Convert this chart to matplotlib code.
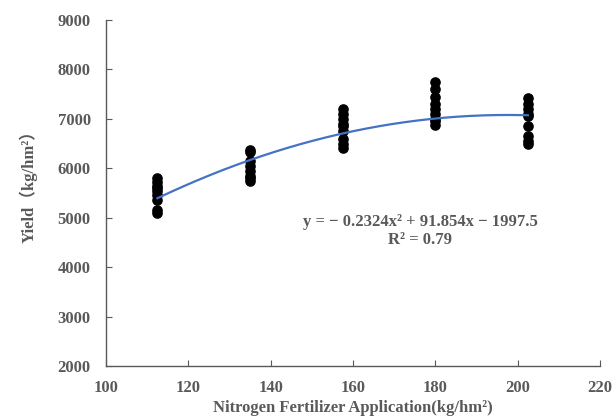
import numpy as np
import matplotlib
matplotlib.use("Agg")
import matplotlib.pyplot as plt

# nitrogen rates (kg/hm2) and yields
n_rates = [112.5, 135, 157.5, 180, 202.5]
yields = [
    [5800, 5720, 5650, 5600, 5550, 5450, 5350, 5150, 5100],
    [6370, 6320, 6150, 6050, 5950, 5850, 5800, 5750],
    [7200, 7100, 7000, 6900, 6850, 6750, 6600, 6500, 6420],
    [7750, 7600, 7450, 7300, 7200, 7100, 7000, 6950, 6880],
    [7420, 7300, 7200, 7100, 7050, 6850, 6650, 6550, 6500],
]
# quadratic trendline coefficients as printed on the chart
coef = [-0.2324, 91.854, -1997.5]
x_ticks = [100, 120, 140, 160, 180, 200, 220]
y_ticks = [2000, 3000, 4000, 5000, 6000, 7000, 8000, 9000]

SERIF = ["Liberation Serif", "Noto Sans CJK SC", "DejaVu Serif"]
GRAY = "#595959"

fig = plt.figure(figsize=(6.16, 4.16), dpi=100)
ax = fig.add_axes([0.172, 0.120, 0.802, 0.832])

xs = np.concatenate([[x] * len(v) for x, v in zip(n_rates, yields)])
ys = np.concatenate(yields)
ax.scatter(xs, ys, s=44, color="black", zorder=3)

xf = np.linspace(n_rates[0], n_rates[-1], 200)
ax.plot(xf, np.polyval(coef, xf), color="#4472C4", linewidth=1.6, zorder=4)

ax.text(176.3, 4913, "y = − 0.2324x² + 91.854x − 1997.5", ha="center", va="center",
        fontsize=12, fontweight="bold", family=SERIF, color=GRAY)
ax.text(176.3, 4560, "R² = 0.79", ha="center", va="center",
        fontsize=12, fontweight="bold", family=SERIF, color=GRAY)

ax.set_xlim(100, 220)
ax.set_ylim(2000, 9000)
ax.set_xticks(x_ticks)
ax.set_yticks(y_ticks)
ax.tick_params(direction="in", length=4, color=GRAY, labelcolor=GRAY, labelsize=12)
ax.tick_params(axis="x", pad=10)
ax.tick_params(axis="y", pad=11)
for lab in ax.get_xticklabels() + ax.get_yticklabels():
    lab.set_family(SERIF)
    lab.set_fontweight("bold")

ax.set_xlabel("Nitrogen Fertilizer Application(kg/hm²)", family=SERIF, fontweight="bold",
              fontsize=12, color=GRAY)
ax.set_ylabel("Yield（kg/hm²）", family=SERIF, fontweight="bold",
              fontsize=12, color=GRAY)
ax.xaxis.set_label_coords(0.5, -0.098)
ax.yaxis.set_label_coords(-0.138, 0.53)

ax.spines["top"].set_visible(False)
ax.spines["right"].set_visible(False)
for s in ("left", "bottom"):
    ax.spines[s].set_color(GRAY)
    ax.spines[s].set_linewidth(1.0)

fig.savefig("out.png", dpi=100)
